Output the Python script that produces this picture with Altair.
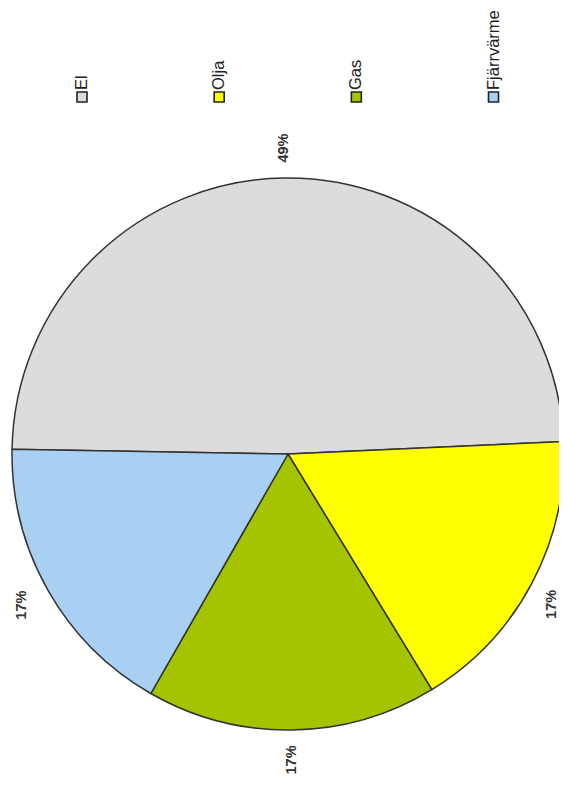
import math
import altair as alt
import pandas as pd

categories = ["El", "Olja", "Gas", "Fjärrvärme"]
values = [49, 17, 17, 17]
labels = ["49%", "17%", "17%", "17%"]
colors = ["#DCDCDC", "#FFFF00", "#A4C400", "#A8D0F2"]

df = pd.DataFrame({
    "cat": categories,
    "val": values,
    "label": labels,
    "idx": list(range(len(categories))),
})

cx, cy, r = 280, 446, 276
start = -89.0 * math.pi / 180

theta_scale = alt.Scale(domain=[0, 100], range=[start, start + 2 * math.pi])
color_scale = alt.Scale(domain=categories, range=colors)

base = alt.Chart(df)

pie = base.mark_arc(radius=r, stroke="#333333", strokeWidth=1.5).encode(
    theta=alt.Theta("val:Q", stack=True, scale=theta_scale),
    color=alt.Color("cat:N", scale=color_scale, legend=None),
    order=alt.Order("idx:Q"),
    x=alt.value(cx),
    y=alt.value(cy),
)

text_style = dict(angle=270, align="center", baseline="middle",
                  font="Liberation Sans", fontSize=14.5, fontWeight="bold",
                  color="#333333")

lab_base = base.transform_window(
    cum="sum(val)", sort=[alt.SortField("idx")], frame=[None, 0]
).transform_calculate(mid="datum.cum - datum.val / 2")

lab_enc = dict(
    theta=alt.Theta("mid:Q", scale=theta_scale),
    text="label:N",
    x=alt.value(cx),
    y=alt.value(cy),
)

pct_main = lab_base.transform_filter(alt.datum.cat != "Olja").mark_text(
    radius=306, **text_style).encode(**lab_enc)

pct_olja = lab_base.transform_filter(alt.datum.cat == "Olja").mark_text(
    radius=299, dx=-10, **text_style).encode(**lab_enc)

leg_x = alt.X("cat:N", sort=categories,
              scale=alt.Scale(type="point", range=[74, 485.5], padding=0),
              axis=None)

leg_sq = base.mark_square(size=100, stroke="#222222", strokeWidth=1.6, opacity=1).encode(
    x=leg_x,
    y=alt.value(89),
    fill=alt.Fill("cat:N", scale=color_scale, legend=None),
)

leg_txt = base.mark_text(
    angle=270, align="left", baseline="middle",
    font="Liberation Sans", fontSize=16.5, color="#222222",
).encode(
    x=leg_x,
    y=alt.value(82),
    text="cat:N",
)

chart = alt.layer(pie, pct_main, pct_olja, leg_sq, leg_txt).properties(
    width=551, height=771,
    autosize=alt.AutoSizeParams(type="none"),
    padding=0,
    background="white",
).configure_view(strokeWidth=0)

chart.save("out.html", embed_options={"renderer": "svg", "actions": False})
